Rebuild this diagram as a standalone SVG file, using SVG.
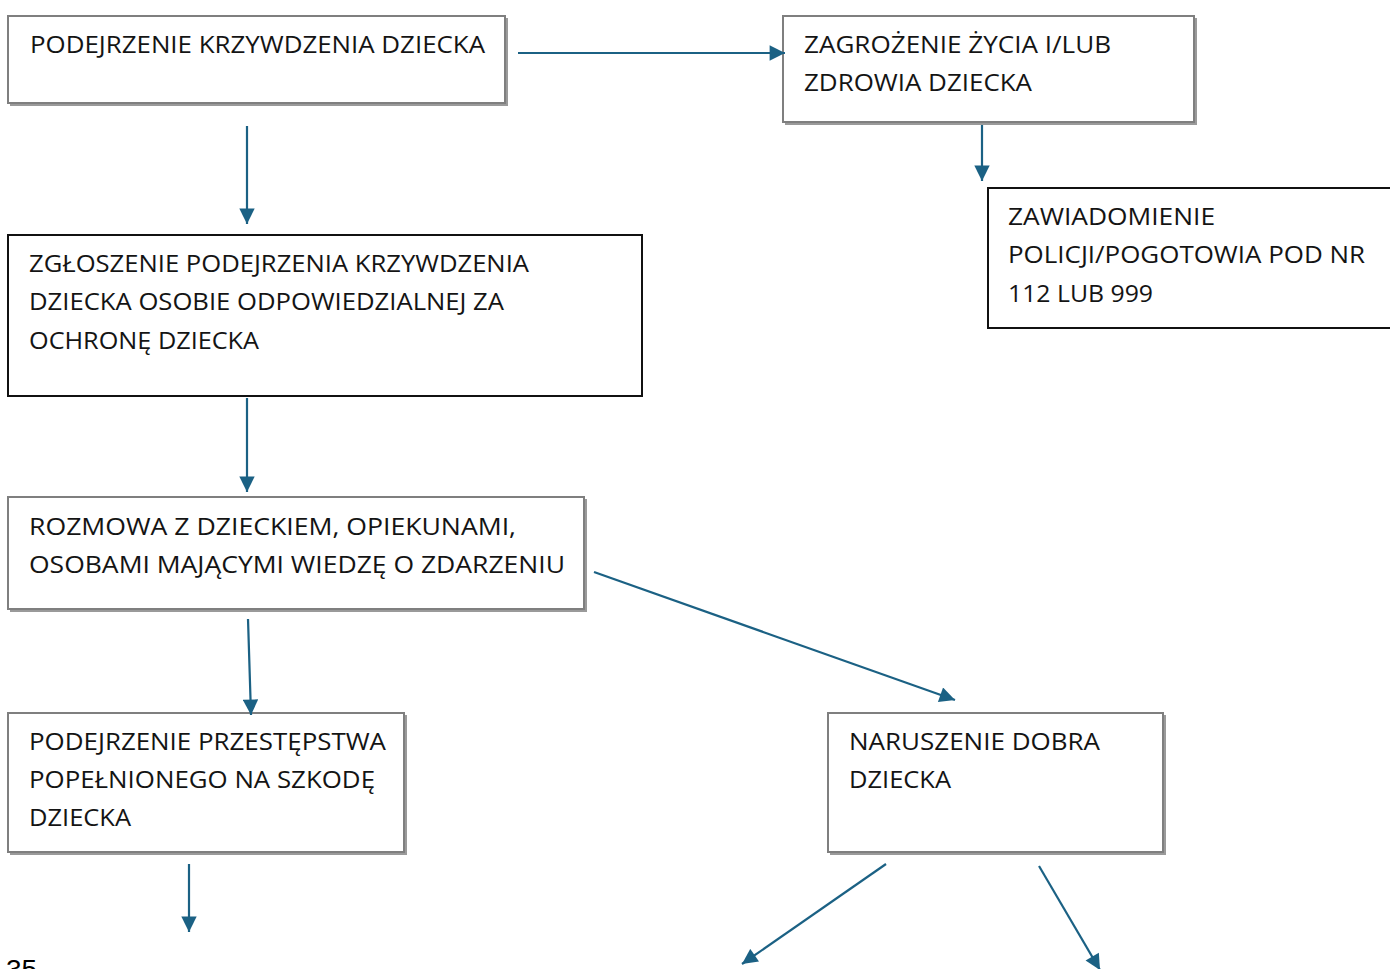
<svg xmlns="http://www.w3.org/2000/svg" width="1390" height="969" viewBox="0 0 1390 969">
<style>
.bg{fill:#ffffff}
.sh{fill:#9a9a9a}
.gbox{fill:#ffffff;stroke:#7f7f7f;stroke-width:2}
.kbox{fill:#ffffff;stroke:#111111;stroke-width:2}
.t{font-family:"Open Sans","Noto Sans",sans-serif;font-size:24px;fill:#141414}
.c{stroke:#1b6184;stroke-width:2.2;fill:none}
.pn{font-family:"Liberation Sans",Arial,sans-serif;font-size:28px;fill:#000}
</style>
<defs>
<marker id="ah" viewBox="0 0 10 10" refX="10" refY="5" markerWidth="7.8" markerHeight="7" markerUnits="strokeWidth" orient="auto">
<path d="M0,0 L10,5 L0,10 z" fill="#1b6184"/>
</marker>
</defs>
<rect class="bg" x="0" y="0" width="1390" height="969"/>

<g id="node-podejrzenie">
<rect class="sh" x="10" y="18" width="498" height="88"/>
<rect class="gbox" x="8" y="16" width="497" height="87"/>
<text class="t" x="30" y="53" textLength="455" lengthAdjust="spacingAndGlyphs">PODEJRZENIE KRZYWDZENIA DZIECKA</text>
</g>

<g id="node-zagrozenie">
<rect class="sh" x="785" y="18" width="412" height="107"/>
<rect class="gbox" x="783" y="16" width="411" height="106"/>
<text class="t" x="804" y="53" textLength="307" lengthAdjust="spacingAndGlyphs">ZAGROŻENIE ŻYCIA I/LUB</text>
<text class="t" x="804" y="91" textLength="228" lengthAdjust="spacingAndGlyphs">ZDROWIA DZIECKA</text>
</g>

<g id="node-zawiadomienie">
<rect class="kbox" x="988" y="188" width="410" height="140"/>
<text class="t" x="1008" y="225" textLength="207" lengthAdjust="spacingAndGlyphs">ZAWIADOMIENIE</text>
<text class="t" x="1008" y="263" textLength="357" lengthAdjust="spacingAndGlyphs">POLICJI/POGOTOWIA POD NR</text>
<text class="t" x="1008" y="302" textLength="145" lengthAdjust="spacingAndGlyphs">112  LUB 999</text>
</g>

<g id="node-zgloszenie">
<rect class="kbox" x="8" y="235" width="634" height="161"/>
<text class="t" x="29" y="272" textLength="500" lengthAdjust="spacingAndGlyphs">ZGŁOSZENIE PODEJRZENIA KRZYWDZENIA</text>
<text class="t" x="29" y="310" textLength="475" lengthAdjust="spacingAndGlyphs">DZIECKA OSOBIE ODPOWIEDZIALNEJ ZA</text>
<text class="t" x="29" y="349" textLength="230" lengthAdjust="spacingAndGlyphs">OCHRONĘ DZIECKA</text>
</g>

<g id="node-rozmowa">
<rect class="sh" x="10" y="499" width="577" height="113"/>
<rect class="gbox" x="8" y="497" width="576" height="112"/>
<text class="t" x="29" y="535" textLength="487" lengthAdjust="spacingAndGlyphs">ROZMOWA Z DZIECKIEM, OPIEKUNAMI,</text>
<text class="t" x="29" y="573" textLength="536" lengthAdjust="spacingAndGlyphs">OSOBAMI MAJĄCYMI WIEDZĘ O ZDARZENIU</text>
</g>

<g id="node-przestepstwo">
<rect class="sh" x="10" y="715" width="397" height="140"/>
<rect class="gbox" x="8" y="713" width="396" height="139"/>
<text class="t" x="29" y="750" textLength="357" lengthAdjust="spacingAndGlyphs">PODEJRZENIE PRZESTĘPSTWA</text>
<text class="t" x="29" y="788" textLength="346" lengthAdjust="spacingAndGlyphs">POPEŁNIONEGO NA SZKODĘ</text>
<text class="t" x="29" y="826" textLength="102" lengthAdjust="spacingAndGlyphs">DZIECKA</text>
</g>

<g id="node-naruszenie">
<rect class="sh" x="830" y="715" width="336" height="140"/>
<rect class="gbox" x="828" y="713" width="335" height="139"/>
<text class="t" x="849" y="750" textLength="251" lengthAdjust="spacingAndGlyphs">NARUSZENIE DOBRA</text>
<text class="t" x="849" y="788" textLength="102" lengthAdjust="spacingAndGlyphs">DZIECKA</text>
</g>

<g id="connectors">
<line class="c" x1="518" y1="53" x2="785" y2="53" marker-end="url(#ah)"/>
<line class="c" x1="247" y1="126" x2="247" y2="224" marker-end="url(#ah)"/>
<line class="c" x1="982" y1="125" x2="982" y2="181" marker-end="url(#ah)"/>
<line class="c" x1="247" y1="398" x2="247" y2="492" marker-end="url(#ah)"/>
<line class="c" x1="248" y1="619" x2="251" y2="715" marker-end="url(#ah)"/>
<line class="c" x1="594" y1="572" x2="955" y2="700" marker-end="url(#ah)"/>
<line class="c" x1="189" y1="864" x2="189" y2="932" marker-end="url(#ah)"/>
<line class="c" x1="886" y1="864" x2="742" y2="964" marker-end="url(#ah)"/>
<line class="c" x1="1039" y1="866" x2="1100" y2="970" marker-end="url(#ah)"/>
</g>

<text class="pn" x="6" y="979">35</text>
</svg>
